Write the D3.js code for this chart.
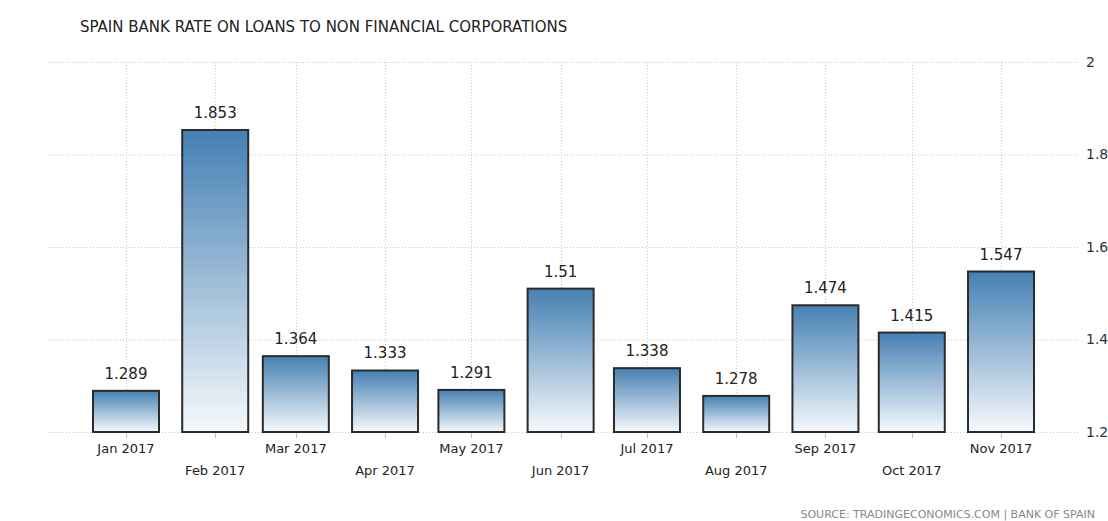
<!DOCTYPE html>
<html lang="en">
<head>
<meta charset="UTF-8" />
<title>Spain Bank Rate on Loans to Non Financial Corporations</title>
<script src="https://d3js.org/d3.v7.min.js"></script>
<style>
  body { margin: 0; background: #fff; }
  svg { display: block; font-family: "DejaVu Sans", sans-serif; }
</style>
</head>
<body>
<div id="chart"></div>
<script>
const months = ["2017-01", "2017-02", "2017-03", "2017-04", "2017-05", "2017-06",
                "2017-07", "2017-08", "2017-09", "2017-10", "2017-11"];
const values = [1.289, 1.853, 1.364, 1.333, 1.291, 1.51, 1.338, 1.278, 1.474, 1.415, 1.547];
const yTicks = [1.2, 1.4, 1.6, 1.8, 2];

const width = 1108, height = 521;
const parse = d3.timeParse("%Y-%m");
const data = months.map((m, i) => ({ date: parse(m), value: values[i] }));

const svg = d3.select("#chart").append("svg")
  .attr("width", width).attr("height", height);

const x = d3.scaleTime()
  .domain([parse("2017-01"), parse("2017-11")])
  .range([126, 1001]);
const y = d3.scaleLinear().domain([1.2, 2]).range([432, 62]);
const barW = 66;

const defs = svg.append("defs");
const grad = defs.append("linearGradient")
  .attr("id", "barGrad").attr("x1", 0).attr("y1", 0).attr("x2", 0).attr("y2", 1);
grad.append("stop").attr("offset", "0%").attr("stop-color", "#4580b3");
grad.append("stop").attr("offset", "100%").attr("stop-color", "#f6f9fc");

// horizontal grid
svg.append("g").selectAll("line").data(yTicks).join("line")
  .attr("x1", 48).attr("x2", 1080)
  .attr("y1", d => y(d) + 0.5).attr("y2", d => y(d) + 0.5)
  .attr("stroke", "#c8c8c8").attr("stroke-dasharray", "1,2");

// vertical grid
svg.append("g").selectAll("line").data(data).join("line")
  .attr("x1", d => Math.round(x(d.date)) + 0.5).attr("x2", d => Math.round(x(d.date)) + 0.5)
  .attr("y1", 62).attr("y2", 432)
  .attr("stroke", "#c8c8c8").attr("stroke-dasharray", "1,2");

// y labels
svg.append("g").selectAll("text").data(yTicks).join("text")
  .attr("x", 1086).attr("y", d => y(d)).attr("dy", "0.35em")
  .attr("font-size", 14).attr("fill", "#333")
  .text(d => d3.format("")(d));

// ticks
svg.append("g").selectAll("line").data(data).join("line")
  .attr("x1", d => Math.round(x(d.date)) + 0.5).attr("x2", d => Math.round(x(d.date)) + 0.5)
  .attr("y1", 432).attr("y2", 438)
  .attr("stroke", "#c0c0c0");

// bars
svg.append("g").selectAll("rect").data(data).join("rect")
  .attr("x", d => x(d.date) - barW / 2)
  .attr("y", d => y(d.value))
  .attr("width", barW)
  .attr("height", d => y(1.2) - y(d.value))
  .attr("fill", "url(#barGrad)")
  .attr("stroke", "#2b2b2b").attr("stroke-width", 2);

// value labels
svg.append("g").selectAll("text").data(data).join("text")
  .attr("x", d => x(d.date)).attr("y", d => y(d.value) - 12)
  .attr("text-anchor", "middle").attr("font-size", 15).attr("fill", "#222")
  .text(d => d.value);

// x labels
const fmt = d3.timeFormat("%b %Y");
svg.append("g").selectAll("text").data(data).join("text")
  .attr("x", d => x(d.date)).attr("y", (d, i) => i % 2 ? 475 : 453)
  .attr("text-anchor", "middle").attr("font-size", 13).attr("fill", "#222")
  .text(d => fmt(d.date));

// title
svg.append("text").attr("x", 80).attr("y", 32)
  .attr("font-size", 15).attr("fill", "#222")
  .text("SPAIN BANK RATE ON LOANS TO NON FINANCIAL CORPORATIONS");

// source
svg.append("text").attr("x", 1095).attr("y", 518).attr("text-anchor", "end")
  .attr("font-size", 11).attr("fill", "#888")
  .text("SOURCE: TRADINGECONOMICS.COM | BANK OF SPAIN");
</script>
</body>
</html>
